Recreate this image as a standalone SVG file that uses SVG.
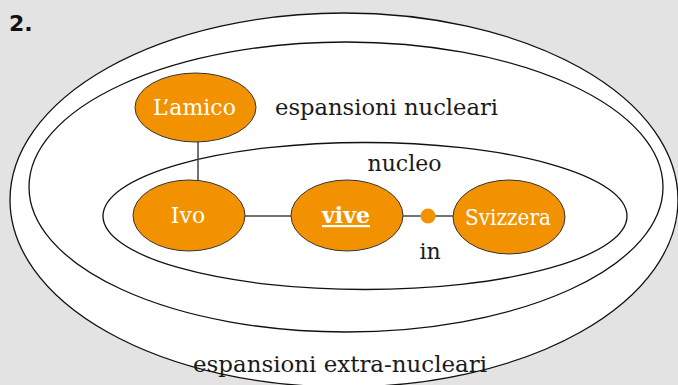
<svg xmlns="http://www.w3.org/2000/svg" width="678" height="385" viewBox="0 0 678 385">
<style>
.ring{fill:#ffffff;stroke:#111111;stroke-width:1.3}
.node{fill:#f39200;stroke:#333333;stroke-width:1}
.lbl{font-family:"DejaVu Serif","Liberation Serif",serif;font-size:22px;fill:#1a1a1a;text-anchor:middle}
.nlbl{font-family:"DejaVu Serif","Liberation Serif",serif;font-size:22px;fill:#ffffff;text-anchor:middle}
.edge{stroke:#444444;stroke-width:1.5;fill:none}
</style>
<rect x="0" y="0" width="678" height="385" fill="#e2e3e2"/>
<text x="9" y="31" font-family="DejaVu Sans, Liberation Sans, sans-serif" font-weight="bold" font-size="22" fill="#111111">2.</text>
<g id="ring-extra">
<ellipse class="ring" cx="344" cy="200" rx="334" ry="187"/>
<text class="lbl" x="340" y="372" textLength="294" lengthAdjust="spacingAndGlyphs">espansioni extra-nucleari</text>
</g>
<g id="ring-espansioni">
<ellipse class="ring" cx="346" cy="187" rx="317" ry="145"/>
<text class="lbl" x="386.5" y="115" textLength="223" lengthAdjust="spacingAndGlyphs">espansioni nucleari</text>
</g>
<g id="ring-nucleo">
<ellipse class="ring" cx="365" cy="216" rx="262" ry="73.5"/>
<text class="lbl" x="404.5" y="171">nucleo</text>
</g>
<g id="connectors">
<line class="edge" x1="198" y1="142" x2="198" y2="180"/>
<line class="edge" x1="245" y1="216" x2="291" y2="216"/>
<line class="edge" x1="403" y1="216" x2="453" y2="216"/>
</g>
<g id="lamico">
<ellipse class="node" cx="195.5" cy="107.5" rx="60.5" ry="34.5"/>
<text class="nlbl" x="194.5" y="115">L’amico</text>
</g>
<g id="ivo">
<ellipse class="node" cx="189" cy="215.5" rx="56" ry="35.5"/>
<text class="nlbl" x="188" y="223">Ivo</text>
</g>
<g id="vive">
<ellipse class="node" cx="347" cy="215.5" rx="56" ry="35.5"/>
<text class="nlbl" x="346" y="223" font-weight="bold" text-decoration="underline">vive</text>
</g>
<g id="in">
<circle cx="428" cy="216" r="7.5" fill="#f39200"/>
<text class="lbl" x="430" y="259">in</text>
</g>
<g id="svizzera">
<ellipse class="node" cx="509" cy="217" rx="56" ry="37"/>
<text class="nlbl" x="508" y="225" textLength="86" lengthAdjust="spacingAndGlyphs">Svizzera</text>
</g>
</svg>
